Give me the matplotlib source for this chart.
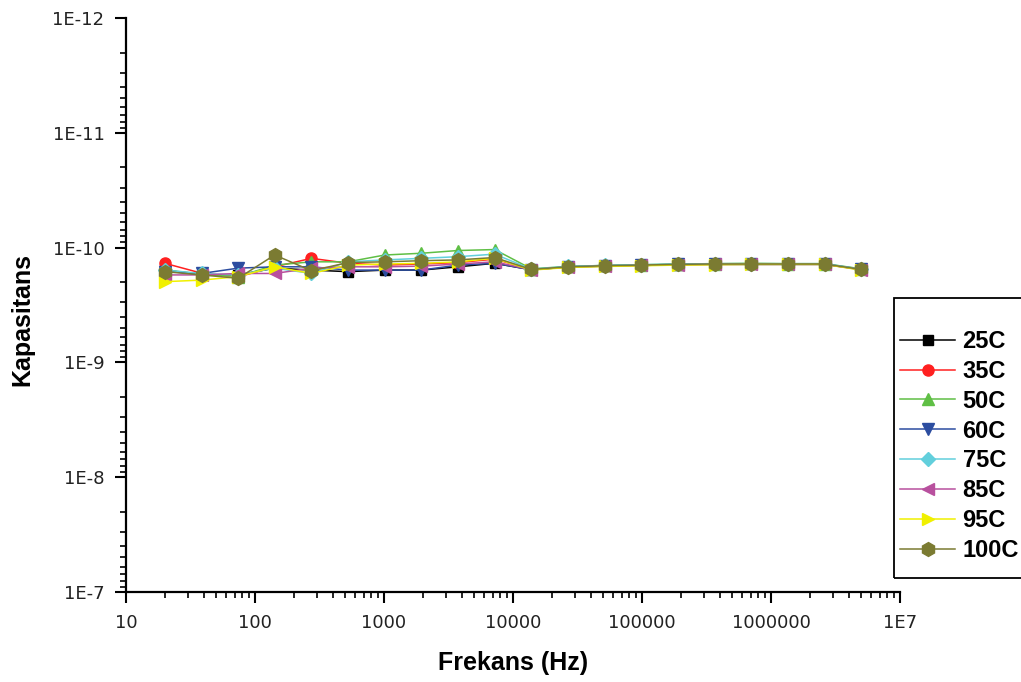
import matplotlib
matplotlib.use('Agg')
import matplotlib.pyplot as plt
from matplotlib.patches import Rectangle
from matplotlib.ticker import LogLocator, NullFormatter

plt.rcParams['font.family'] = ['Liberation Sans', 'DejaVu Sans']

# frequency points (Hz)
freq = [20, 38.5, 74, 142, 274, 527, 1014, 1950, 3750, 7210,
        13870, 26680, 51300, 98660, 189700, 365000, 702000, 1350000, 2600000, 5000000]

# capacitance in units of 1e-10 F
cap_25 = [1.57, 1.73, 1.73, 1.51, 1.57, 1.62, 1.57, 1.57, 1.47, 1.37,
          1.56, 1.48, 1.45, 1.43, 1.41, 1.40, 1.40, 1.40, 1.40, 1.55]
cap_35 = [1.37, 1.67, 1.80, 1.47, 1.24, 1.37, 1.42, 1.39, 1.35, 1.26,
          1.55, 1.47, 1.43, 1.42, 1.40, 1.39, 1.39, 1.39, 1.39, 1.54]
cap_50 = [1.57, 1.70, 1.79, 1.42, 1.33, 1.33, 1.16, 1.12, 1.06, 1.04,
          1.53, 1.46, 1.43, 1.41, 1.39, 1.38, 1.37, 1.38, 1.38, 1.53]
cap_60 = [1.62, 1.68, 1.51, 1.47, 1.47, 1.57, 1.57, 1.57, 1.42, 1.37,
          1.56, 1.47, 1.44, 1.42, 1.40, 1.39, 1.39, 1.39, 1.39, 1.55]
cap_75 = [1.57, 1.68, 1.73, 1.51, 1.68, 1.33, 1.28, 1.24, 1.20, 1.14,
          1.54, 1.46, 1.43, 1.41, 1.39, 1.38, 1.38, 1.38, 1.38, 1.54]
cap_85 = [1.73, 1.73, 1.68, 1.68, 1.51, 1.47, 1.47, 1.45, 1.39, 1.33,
          1.56, 1.48, 1.45, 1.43, 1.41, 1.40, 1.40, 1.40, 1.40, 1.56]
cap_95 = [1.98, 1.92, 1.79, 1.47, 1.68, 1.42, 1.39, 1.37, 1.33, 1.24,
          1.57, 1.49, 1.46, 1.44, 1.42, 1.41, 1.40, 1.40, 1.40, 1.57]
cap_100 = [1.62, 1.73, 1.85, 1.16, 1.59, 1.35, 1.33, 1.30, 1.28, 1.22,
           1.55, 1.47, 1.44, 1.42, 1.40, 1.39, 1.39, 1.39, 1.39, 1.55]

labels = ['25C', '35C', '50C', '60C', '75C', '85C', '95C', '100C']
series = [cap_25, cap_35, cap_50, cap_60, cap_75, cap_85, cap_95, cap_100]
colors = ['#000000', '#ff2020', '#5fbf45', '#2c4da0', '#62cfdc', '#b8509e', '#f0f000', '#7b7b32']
markers = ['s', 'o', '^', 'v', 'D', '<', '>', 'h']
msizes = [7, 8, 8, 8, 7, 8, 8, 10]

xtick_vals = [10, 100, 1000, 10000, 100000, 1000000, 10000000]
xtick_labels = ['10', '100', '1000', '10000', '100000', '1000000', '1E7']
ytick_vals = [1e-12, 1e-11, 1e-10, 1e-9, 1e-8, 1e-7]
ytick_labels = ['1E-12', '1E-11', '1E-10', '1E-9', '1E-8', '1E-7']

fig = plt.figure(figsize=(10.21, 6.82), dpi=100)
ax = fig.add_axes([126 / 1021, 90 / 682, 774 / 1021, 574 / 682])

for lab, ys, c, m, ms in zip(labels, series, colors, markers, msizes):
    ax.plot(freq, [v * 1e-10 for v in ys], color=c, marker=m, markersize=ms,
            linewidth=1.1, label=lab)

ax.set_xscale('log')
ax.set_yscale('log')
ax.set_xlim(10, 1e7)
ax.set_ylim(1e-7, 1e-12)

ax.set_xticks(xtick_vals, xtick_labels)
ax.set_yticks(ytick_vals, ytick_labels)
ax.xaxis.set_minor_locator(LogLocator(base=10, subs=range(2, 10), numticks=20))
ax.yaxis.set_minor_locator(LogLocator(base=10, subs=range(2, 10), numticks=20))
ax.xaxis.set_minor_formatter(NullFormatter())
ax.yaxis.set_minor_formatter(NullFormatter())

for t in ax.get_xticklabels() + ax.get_yticklabels():
    t.set_family('DejaVu Sans')
ax.tick_params(which='major', direction='out', length=8, width=1.5, labelsize=13,
               labelcolor='#222222', pad=7.5)
ax.tick_params(axis='x', which='major', pad=8)
ax.tick_params(which='minor', direction='out', length=4.5, width=1.2)

ax.spines['top'].set_visible(False)
ax.spines['right'].set_visible(False)
ax.spines['left'].set_linewidth(1.6)
ax.spines['bottom'].set_linewidth(1.6)

ax.set_xlabel('Frekans (Hz)', fontsize=18, fontweight='bold')
ax.set_ylabel('Kapasitans', fontsize=18, fontweight='bold')
ax.xaxis.set_label_coords(0.5, -0.102)
ax.yaxis.set_label_coords(-0.119, 0.474)

# legend box, runs off the right edge like the original
fig.patches.append(Rectangle((894 / 1021, 1 - 578 / 682), 0.2, 280 / 682,
                             transform=fig.transFigure, fill=False,
                             edgecolor='black', linewidth=1.3, clip_on=False))
fig.legend(loc='upper left', bbox_to_anchor=(900 / 1021, 1 - 330 / 682),
           prop={'size': 17, 'weight': 'bold'}, frameon=False,
           handlelength=2.35, labelspacing=0.29, borderpad=0,
           borderaxespad=0, handletextpad=0.3, numpoints=1)

plt.savefig('out.png', dpi=100)
